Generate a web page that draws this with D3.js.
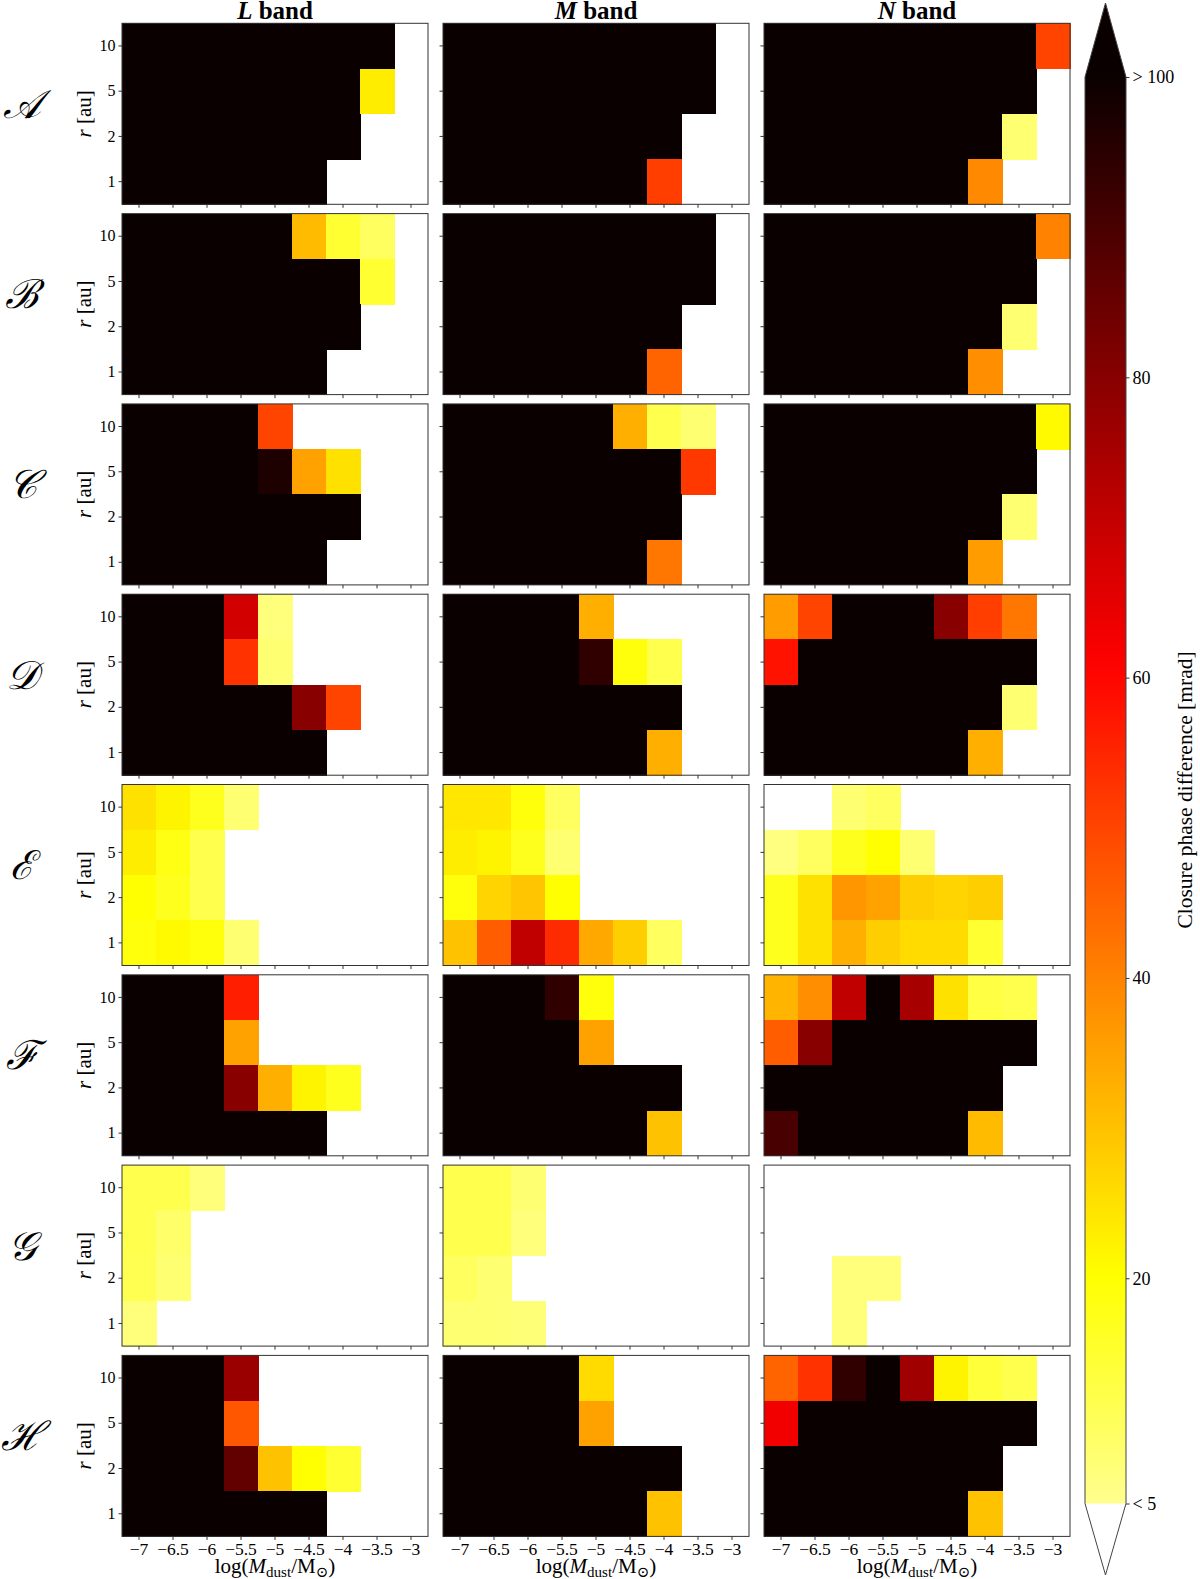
<!DOCTYPE html>
<html>
<head>
<meta charset="utf-8">
<script src="https://cdn.jsdelivr.net/npm/d3@7"></script>
<style>
  body { margin: 0; background: #fff; }
  svg text { font-family: "Liberation Serif", "DejaVu Serif", serif; fill: #000; }
  rect.cell { shape-rendering: crispEdges; }
</style>
</head>
<body>
<div id="chart"></div>
<script>
// H = above the colour range (> 100 mrad, black), n = below it (< 5 mrad, white)
const H = 101;
const n = null;

const xTicks = [-7, -6.5, -6, -5.5, -5, -4.5, -4, -3.5, -3];
const yTicks = [10, 5, 2, 1];
const bands = ['L', 'M', 'N'];
const models = ['𝒜', 'ℬ', '𝒞', '𝒟', 'ℰ', 'ℱ', '𝒢', 'ℋ'];
const cbarTicks = [100, 80, 60, 40, 20, 5];
const cbarLabels = ['> 100', '80', '60', '40', '20', '< 5'];

// rows are r = 10, 5, 2, 1 au (top to bottom), columns follow xTicks
const A_L = [[H, H, H, H, H, H, H, H, n], [H, H, H, H, H, H, H, 23, n], [H, H, H, H, H, H, H, n, n], [H, H, H, H, H, H, n, n, n]];
const A_M = [[H, H, H, H, H, H, H, H, n], [H, H, H, H, H, H, H, H, n], [H, H, H, H, H, H, H, n, n], [H, H, H, H, H, H, 51, n, n]];
const A_N = [[H, H, H, H, H, H, H, H, 50], [H, H, H, H, H, H, H, H, n], [H, H, H, H, H, H, H, 8, n], [H, H, H, H, H, H, 39, n, n]];

const B_L = [[H, H, H, H, H, 31, 15, 10, n], [H, H, H, H, H, H, H, 15, n], [H, H, H, H, H, H, H, n, n], [H, H, H, H, H, H, n, n, n]];
const B_M = [[H, H, H, H, H, H, H, H, n], [H, H, H, H, H, H, H, H, n], [H, H, H, H, H, H, H, n, n], [H, H, H, H, H, H, 45, n, n]];
const B_N = [[H, H, H, H, H, H, H, H, 40], [H, H, H, H, H, H, H, H, n], [H, H, H, H, H, H, H, 8, n], [H, H, H, H, H, H, 38, n, n]];

const C_L = [[H, H, H, H, 50, n, n, n, n], [H, H, H, H, 97, 35, 25, n, n], [H, H, H, H, H, H, H, n, n], [H, H, H, H, H, H, n, n, n]];
const C_M = [[H, H, H, H, H, 33, 12, 8, n], [H, H, H, H, H, H, H, 52, n], [H, H, H, H, H, H, H, n, n], [H, H, H, H, H, H, 42, n, n]];
const C_N = [[H, H, H, H, H, H, H, H, 21], [H, H, H, H, H, H, H, H, n], [H, H, H, H, H, H, H, 8, n], [H, H, H, H, H, H, 36, n, n]];

const D_L = [[H, H, H, 68, 7, n, n, n, n], [H, H, H, 53, 8, n, n, n, n], [H, H, H, H, H, 80, 50, n, n], [H, H, H, H, H, H, n, n, n]];
const D_M = [[H, H, H, H, 33, n, n, n, n], [H, H, H, H, 94, 19, 12, n, n], [H, H, H, H, H, H, H, n, n], [H, H, H, H, H, H, 33, n, n]];
const D_N = [[36, 50, H, H, H, 80, 51, 42, n], [58, H, H, H, H, H, H, H, n], [H, H, H, H, H, H, H, 8, n], [H, H, H, H, H, H, 33, n, n]];

const E_L = [[25, 22, 17, 8, n, n, n, n, n], [23, 18, 12, n, n, n, n, n, n], [20, 17, 12, n, n, n, n, n, n], [19, 21, 19, 8, n, n, n, n, n]];
const E_M = [[24, 24, 19, 10, n, n, n, n, n], [23, 22, 17, 8, n, n, n, n, n], [19, 27, 29.5, 20, n, n, n, n, n], [30, 46, 71, 54, 34, 28, 10, n, n]];
const E_N = [[n, n, 8, 10, n, n, n, n, n], [6.5, 10, 17, 20, 8, n, n, n, n], [17, 25, 37, 35, 28, 27, 28, n, n], [17, 25, 33, 28, 26, 26, 15, n, n]];

const F_L = [[H, H, H, 56, n, n, n, n, n], [H, H, H, 35, n, n, n, n, n], [H, H, H, 80, 33, 22, 17, n, n], [H, H, H, H, H, H, n, n, n]];
const F_M = [[H, H, H, 94, 19, n, n, n, n], [H, H, H, H, 35, n, n, n, n], [H, H, H, H, H, H, H, n, n], [H, H, H, H, H, H, 30, n, n]];
const F_N = [[32, 38, 71, H, 75, 25, 13, 12, n], [46, 80, H, H, H, H, H, H, n], [H, H, H, H, H, H, H, n, n], [90, H, H, H, H, H, 31, n, n]];

const G_L = [[12, 12, 7, n, n, n, n, n, n], [12, 9, n, n, n, n, n, n, n], [11.5, 8, n, n, n, n, n, n, n], [7, n, n, n, n, n, n, n, n]];
const G_M = [[12, 12, 8, n, n, n, n, n, n], [12, 12, 7, n, n, n, n, n, n], [10, 8, n, n, n, n, n, n, n], [8, 8, 7.5, n, n, n, n, n, n]];
const G_N = [[n, n, n, n, n, n, n, n, n], [n, n, n, n, n, n, n, n, n], [n, n, 7, 7, n, n, n, n, n], [n, n, 7, n, n, n, n, n, n]];

const H_L = [[H, H, H, 77, n, n, n, n, n], [H, H, H, 47, n, n, n, n, n], [H, H, H, 86, 30, 20, 15, n, n], [H, H, H, H, H, H, n, n, n]];
const H_M = [[H, H, H, H, 26, n, n, n, n], [H, H, H, H, 35, n, n, n, n], [H, H, H, H, H, H, H, n, n], [H, H, H, H, H, H, 30, n, n]];
const H_N = [[45, 53, 94, H, 76, 22, 14, 12, n], [63, H, H, H, H, H, H, H, n], [H, H, H, H, H, H, H, n, n], [H, H, H, H, H, H, 30, n, n]];

const grids = [
  [A_L, A_M, A_N], [B_L, B_M, B_N], [C_L, C_M, C_N], [D_L, D_M, D_N],
  [E_L, E_M, E_N], [F_L, F_M, F_N], [G_L, G_M, G_N], [H_L, H_M, H_N]
];

const serif = '"Liberation Serif", "DejaVu Serif", serif';

// matplotlib "hot", used reversed
function hot (x) {
  const r = x < 0.365079 ? 0.0416 + (1 - 0.0416) * x / 0.365079 : 1;
  const g = x < 0.365079 ? 0 : (x < 0.746032 ? (x - 0.365079) / (0.746032 - 0.365079) : 1);
  const b = x < 0.746032 ? 0 : (x - 0.746032) / (1 - 0.746032);
  return d3.rgb(r * 255, g * 255, b * 255).formatHex();
}
const norm = d3.scaleLinear().domain([-7, 100]).range([1, 0]).clamp(true);
const color = (v) => hot(norm(v));

const width = 1200;
const height = 1579;
const colX = [122, 443, 764];
const panelW = 306;
const panelH = 181;
const rowY = (i) => 23.3 + 190.3 * i;

const svg = d3.select('#chart')
  .append('svg')
    .attr('width', width)
    .attr('height', height);

const x = d3.scaleBand().domain(xTicks).range([0, panelW]);
const y = d3.scaleBand().domain(yTicks).range([0, panelH]);

grids.forEach((row, i) => {
  row.forEach((grid, j) => {
    const g = svg.append('g')
      .attr('transform', 'translate(' + colX[j] + ',' + rowY(i) + ')');

    const cells = [];
    grid.forEach((vals, r) => vals.forEach((v, c) => {
      if (v !== null) cells.push({ x: xTicks[c], y: yTicks[r], v: v });
    }));

    g.selectAll('rect.cell')
      .data(cells)
      .enter().append('rect')
        .attr('class', 'cell')
        .attr('x', (d) => x(d.x))
        .attr('y', (d) => y(d.y))
        .attr('width', x.bandwidth() + 0.5)
        .attr('height', y.bandwidth() + 0.5)
        .attr('fill', (d) => color(d.v));

    const yAxis = g.append('g')
      .call(d3.axisLeft(y).tickSize(3.5).tickPadding(3).tickSizeOuter(0))
      .attr('font-family', serif);
    yAxis.select('.domain').remove();
    yAxis.selectAll('line').attr('stroke', '#333');
    if (j === 0) {
      yAxis.selectAll('text').style('font-size', '16px');
    } else {
      yAxis.selectAll('text').remove();
    }

    const xAxis = g.append('g')
      .attr('transform', 'translate(0,' + panelH + ')')
      .call(d3.axisBottom(x).tickSize(3.5).tickPadding(2.5).tickFormat(d3.format('~g')))
      .attr('font-family', serif);
    xAxis.select('.domain').remove();
    xAxis.selectAll('line').attr('stroke', '#333');
    if (i === grids.length - 1) {
      xAxis.selectAll('text').style('font-size', '17.5px');
    } else {
      xAxis.selectAll('text').remove();
    }

    g.append('rect')
      .attr('width', panelW)
      .attr('height', panelH)
      .attr('fill', 'none')
      .attr('stroke', '#333')
      .attr('stroke-width', 1);

    if (j === 0) {
      g.append('text')
        .attr('transform', 'translate(-31,' + (panelH / 2) + ') rotate(-90)')
        .attr('text-anchor', 'middle')
        .style('font-size', '21px')
        .html('<tspan font-style="italic">r</tspan> [au]');

      g.append('text')
        .attr('x', -100)
        .attr('y', panelH / 2 + 4)
        .attr('text-anchor', 'middle')
        .style('font-size', '40px')
        .style('font-style', 'italic')
        .text(models[i]);
    }

    if (i === 0) {
      g.append('text')
        .attr('x', panelW / 2)
        .attr('y', -4.5)
        .attr('text-anchor', 'middle')
        .style('font-size', '25px')
        .style('font-weight', 'bold')
        .html('<tspan font-style="italic">' + bands[j] + '</tspan> band');
    }

    if (i === grids.length - 1) {
      g.append('text')
        .attr('x', panelW / 2)
        .attr('y', panelH + 37)
        .attr('text-anchor', 'middle')
        .style('font-size', '21px')
        .html('log(<tspan font-style="italic">M</tspan><tspan font-size="15px" dy="4">dust</tspan><tspan dy="-4">/M</tspan><tspan font-size="15px" dy="4">⊙</tspan><tspan dy="-4">)</tspan>');
    }
  });
});

// colour bar
const cbX = 1085;
const cbW = 41;
const cb = d3.scaleLinear().domain([5, 100]).range([1503.5, 77]);

const grad = svg.append('defs').append('linearGradient')
  .attr('id', 'cbgrad')
  .attr('x1', 0).attr('y1', 1).attr('x2', 0).attr('y2', 0);
d3.range(0, 1.0001, 0.02).forEach((t) => {
  grad.append('stop')
    .attr('offset', t)
    .attr('stop-color', color(5 + 95 * t));
});

svg.append('rect')
  .attr('x', cbX)
  .attr('y', cb(100))
  .attr('width', cbW)
  .attr('height', cb(5) - cb(100))
  .attr('fill', 'url(#cbgrad)');

svg.append('path')
  .attr('d', 'M' + cbX + ',' + cb(100) + 'L' + (cbX + cbW / 2) + ',3L' + (cbX + cbW) + ',' + cb(100) + 'Z')
  .attr('fill', color(H));

// outline incl. both extend triangles
svg.append('path')
  .attr('d', 'M' + cbX + ',' + cb(100) + 'L' + (cbX + cbW / 2) + ',3L' + (cbX + cbW) + ',' + cb(100) +
    'L' + (cbX + cbW) + ',' + cb(5) + 'L' + (cbX + cbW / 2) + ',1575L' + cbX + ',' + cb(5) + 'Z')
  .attr('fill', 'none')
  .attr('stroke', '#444')
  .attr('stroke-width', 1);

const cbAxis = svg.append('g')
  .attr('transform', 'translate(' + (cbX + cbW) + ',0)')
  .call(d3.axisRight(cb).tickValues(cbarTicks).tickSize(3.5).tickPadding(3)
    .tickFormat((d, k) => cbarLabels[k]))
  .attr('font-family', serif);
cbAxis.select('.domain').remove();
cbAxis.selectAll('line').attr('stroke', '#333');
cbAxis.selectAll('text').style('font-size', '18px');

svg.append('text')
  .attr('transform', 'translate(1192,' + 790 + ') rotate(-90)')
  .attr('text-anchor', 'middle')
  .style('font-size', '21.5px')
  .text('Closure phase difference [mrad]');
</script>
</body>
</html>
